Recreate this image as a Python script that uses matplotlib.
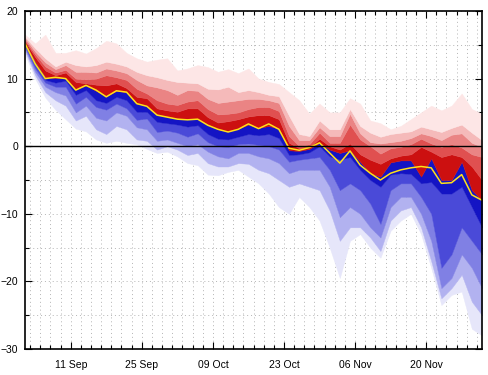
import numpy as np
import pandas as pd
import matplotlib
matplotlib.use("Agg")
import matplotlib.pyplot as plt

plt.rcParams['font.family'] = ['Liberation Sans', 'DejaVu Sans']

# ---- data (every 2 days, 02 Sep .. 01 Dec) ----
dates = pd.date_range('2019-09-02', periods=46, freq='2D')

p100 = [16.5, 15.2, 16.5, 13.8, 13.8, 14.2, 13.7, 14.5, 15.6, 15.2, 13.8, 13.0, 12.5, 12.8, 13.0, 11.2,
        11.5, 12.0, 11.7, 11.0, 11.4, 10.8, 11.5, 10.0, 9.5, 9.2, 8.0, 6.8, 4.8, 6.3, 5.0, 5.0,
        7.1, 6.3, 3.8, 3.4, 2.5, 3.0, 4.0, 5.0, 6.0, 5.3, 6.0, 7.8, 5.5, 4.8]
p90 = [16.2, 14.5, 13.0, 11.8, 12.5, 12.0, 11.8, 12.0, 12.5, 12.2, 11.8, 11.0, 10.5, 10.2, 9.8, 9.5,
       9.4, 9.3, 8.5, 8.4, 8.8, 8.0, 8.3, 8.0, 7.6, 7.4, 4.5, 1.8, 1.5, 3.8, 2.5, 2.5,
       5.5, 3.0, 2.0, 1.4, 1.8, 2.0, 2.2, 2.9, 2.5, 2.1, 2.7, 3.2, 2.0, 0.9]
p80 = [16.0, 14.0, 12.4, 11.4, 12.0, 11.0, 11.0, 10.9, 11.5, 11.2, 10.8, 9.8, 9.0, 8.7, 8.3, 7.6,
       8.3, 8.2, 7.0, 6.4, 6.6, 6.8, 7.0, 7.0, 6.8, 6.4, 3.0, 0.9, 0.9, 2.8, 1.5, 1.5,
       4.8, 1.9, 0.6, 0.4, 0.6, 0.8, 1.2, 1.9, 1.5, 0.9, 1.7, 1.9, 0.5, -0.1]
p70 = [15.7, 13.6, 11.8, 10.9, 11.3, 10.0, 9.9, 10.0, 10.5, 10.2, 9.8, 8.5, 7.8, 6.8, 6.3, 6.1,
       6.6, 6.8, 5.5, 4.7, 4.8, 5.0, 5.5, 5.8, 5.8, 5.2, 1.5, 0.0, 0.3, 2.0, 0.5, 0.5,
       3.2, 1.0, 0.0, -1.1, -0.3, -0.1, 0.3, 1.1, 0.4, -0.1, 0.3, -0.2, -1.2, -1.6]
p60 = [15.5, 13.2, 11.2, 10.5, 10.9, 9.5, 9.3, 9.1, 9.0, 9.3, 8.6, 7.3, 7.1, 5.6, 5.3, 5.1,
       5.6, 5.6, 4.3, 3.5, 3.7, 4.0, 4.4, 4.6, 4.6, 4.0, 0.5, -0.3, -0.1, 1.1, 0.0, -0.5,
       0.4, -1.2, -2.0, -2.6, -1.8, -1.4, -1.2, -0.1, -0.8, -1.6, -1.2, -1.6, -3.0, -5.0]
p50 = [15.3, 12.5, 10.2, 10.1, 10.1, 8.4, 9.0, 8.2, 7.4, 8.2, 8.0, 6.3, 6.0, 4.7, 4.4, 4.1,
       4.0, 4.1, 3.2, 2.5, 2.2, 2.6, 3.2, 2.7, 3.0, 2.6, -0.6, -0.7, -0.4, 0.5, -0.5, -1.0,
       -0.6, -2.3, -4.0, -4.5, -2.4, -2.1, -2.1, -4.5, -1.8, -5.0, -5.0, -2.3, -6.5, -8.0]
p40 = [15.0, 12.0, 9.8, 9.4, 9.7, 7.6, 8.3, 6.8, 6.4, 7.3, 6.8, 5.1, 5.1, 3.6, 3.4, 3.2,
       2.9, 3.1, 1.8, 1.1, 1.0, 1.4, 1.8, 1.6, 1.8, 1.2, -1.3, -1.2, -0.9, 0.0, -1.5, -2.0,
       -1.6, -3.5, -5.0, -6.0, -4.2, -4.0, -4.1, -5.5, -5.3, -7.0, -7.0, -6.0, -9.0, -12.0]
p30 = [14.7, 11.5, 9.4, 8.8, 8.8, 6.3, 7.3, 5.8, 5.4, 6.3, 5.6, 3.9, 4.1, 2.1, 2.3, 2.0,
       1.4, 1.9, 0.6, 0.0, -0.1, 0.3, 0.4, 0.2, 0.0, -0.5, -2.3, -2.0, -1.8, -1.6, -3.5, -6.5,
       -5.5, -6.5, -8.5, -11.5, -6.5, -5.5, -5.5, -7.5, -10.0, -18.0, -16.0, -12.0, -14.0, -16.0]
p20 = [14.4, 11.0, 8.8, 8.0, 7.5, 5.0, 6.0, 4.2, 3.8, 5.0, 4.5, 2.8, 2.5, 0.8, 1.0, 0.5,
       0.0, 0.3, -0.8, -1.5, -1.8, -1.0, -1.0, -1.5, -1.8, -2.5, -4.0, -3.5, -3.5, -3.5, -6.0, -10.5,
       -9.0, -10.0, -12.0, -13.5, -9.0, -7.5, -7.5, -10.0, -14.0, -21.0, -19.5, -16.0, -18.0, -21.0]
p10 = [14.1, 10.5, 8.0, 6.8, 6.0, 3.8, 4.5, 2.5, 1.8, 3.0, 2.5, 1.0, 0.8, -0.5, 0.0, -0.5,
       -1.3, -1.0, -2.5, -3.0, -3.0, -2.5, -2.6, -3.5, -4.0, -5.0, -6.0, -5.5, -6.0, -6.5, -9.5, -14.0,
       -12.0, -12.0, -13.5, -15.5, -11.0, -9.5, -9.0, -12.0, -17.0, -22.5, -21.0, -19.0, -23.0, -25.0]
p0 = [13.6, 10.0, 7.2, 5.4, 4.0, 2.6, 2.2, 1.0, 0.5, 0.8, 0.5, 0.3, -0.4, -1.0, -0.8, -1.5,
      -2.5, -2.8, -4.2, -4.3, -3.8, -3.5, -4.5, -5.5, -7.0, -9.0, -10.0, -7.5, -9.0, -11.0, -15.0, -19.5,
      -14.0, -13.0, -15.0, -16.5, -12.5, -11.0, -10.0, -13.0, -18.0, -23.5, -22.0, -21.5, -27.0, -28.0]
mean_line = [15.2, 12.2, 10.0, 10.2, 10.0, 8.3, 9.0, 8.3, 7.3, 8.2, 8.0, 6.3, 5.9, 4.6, 4.3, 4.0,
             3.9, 4.0, 3.1, 2.5, 2.1, 2.5, 3.3, 2.6, 3.3, 2.5, -0.3, -0.6, -0.2, 0.5, -1.0, -2.5,
             -0.7, -2.8, -4.0, -5.0, -4.0, -3.5, -3.2, -3.0, -3.2, -5.5, -5.4, -4.2, -7.2, -8.0]

major_tick_dates = ['2019-09-11', '2019-09-25', '2019-10-09', '2019-10-23', '2019-11-06', '2019-11-20']
major_tick_labels = ['11 Sep', '25 Sep', '09 Oct', '23 Oct', '06 Nov', '20 Nov']

bands = [p0, p10, p20, p30, p40, p50, p60, p70, p80, p90, p100]
band_colors = ['#e6e6fa', '#b2b2f0', '#8080e4', '#4a4ad8', '#1414c4',
               '#cc1010', '#e05050', '#ea8484', '#f5baba', '#fde6e6']

# ---- figure ----
fig = plt.figure(figsize=(4.89, 3.75), dpi=100)
ax = fig.add_axes([25 / 489, 26 / 375, 457 / 489, 338 / 375])

for lo, hi, c in zip(bands[:-1], bands[1:], band_colors):
    ax.fill_between(dates, lo, hi, facecolor=c, edgecolor=c, linewidth=0.3, zorder=2)

ax.plot(dates, mean_line, color='#ffe11a', lw=1.1, zorder=4)
ax.axhline(0, color='black', lw=1.0, zorder=5)

ax.set_xlim(pd.Timestamp('2019-09-02'), pd.Timestamp('2019-12-01'))
ax.set_ylim(-30, 20)

ax.set_xticks(pd.to_datetime(major_tick_dates))
ax.set_xticklabels(major_tick_labels)
ax.set_xticks(pd.date_range('2019-09-03', '2019-12-01', freq='2D'), minor=True)
ax.set_yticks([-30, -20, -10, 0, 10, 20])
ax.set_yticks(np.arange(-25, 20, 5), minor=True)

for which in ('major', 'minor'):
    ax.grid(which=which, axis='both', color='#b4b4b4', linestyle=(0, (1, 3)), lw=0.7, zorder=1)

ax.tick_params(which='both', direction='in', top=True, right=True, colors='black',
               labelsize=7.5, width=0.8)
ax.tick_params(which='major', length=5)
ax.tick_params(which='minor', length=3)
ax.tick_params(axis='x', which='major', pad=8)
ax.tick_params(axis='y', which='major', pad=5)
for s in ax.spines.values():
    s.set_color('black')
    s.set_linewidth(1.2)
    s.set_zorder(6)

fig.savefig('out.png', dpi=100)
